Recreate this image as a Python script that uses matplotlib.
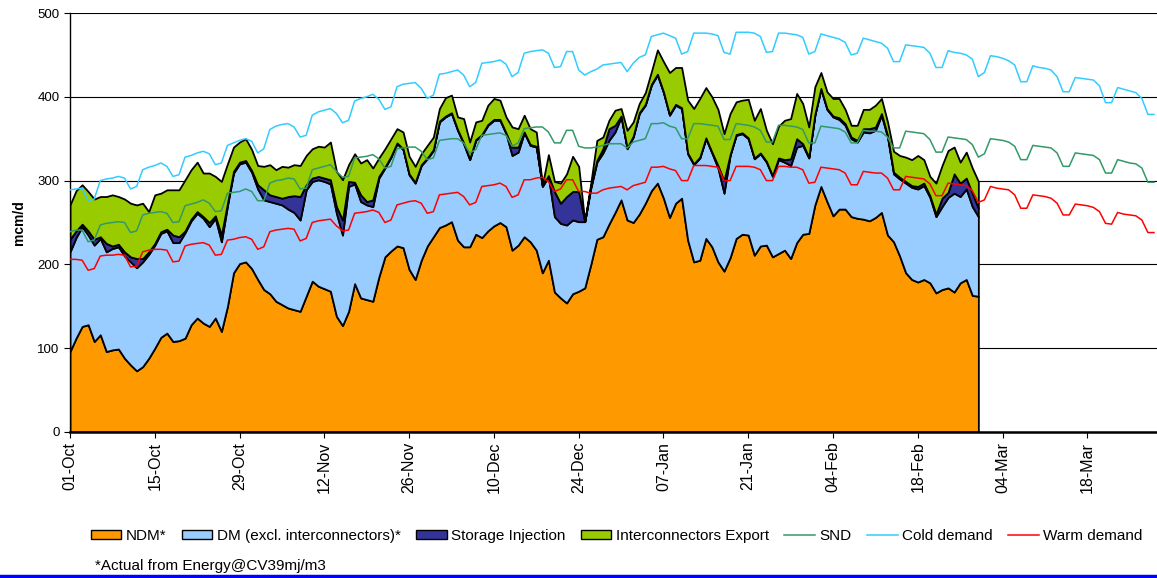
import numpy as np
import matplotlib
matplotlib.use('Agg')
import matplotlib.pyplot as plt
from matplotlib.patches import Patch
from matplotlib.lines import Line2D

plt.rcParams['font.family'] = ['Liberation Sans', 'DejaVu Sans']

# Etiquetas del eje x (cada 14 días desde el 01-Oct)
etiquetas = ['01-Oct', '15-Oct', '29-Oct', '12-Nov', '26-Nov', '10-Dec', '24-Dec',
             '07-Jan', '21-Jan', '04-Feb', '18-Feb', '04-Mar', '18-Mar']

# Demanda diaria real (mcm/d), 01-Oct a 28-Feb
ndm = [96, 112, 126, 128, 108, 116, 96, 98, 99, 88,
       80, 73, 78, 88, 100, 113, 118, 108, 109, 112,
       128, 136, 130, 126, 136, 120, 150, 190, 201, 203,
       195, 182, 170, 165, 156, 152, 148, 146, 144, 162,
       180, 174, 171, 168, 138, 127, 144, 177, 160, 158,
       156, 185, 209, 216, 222, 220, 194, 182, 205, 222,
       233, 244, 247, 251, 229, 221, 221, 236, 232, 240,
       246, 250, 245, 217, 223, 233, 227, 217, 190, 205,
       167, 160, 154, 165, 168, 172, 200, 230, 233, 248,
       262, 277, 253, 250, 260, 273, 288, 297, 279, 256,
       273, 279, 229, 203, 205, 231, 221, 203, 192, 208,
       231, 236, 235, 211, 222, 223, 209, 213, 217, 207,
       226, 236, 237, 271, 293, 275, 258, 266, 266, 257,
       255, 254, 252, 256, 262, 235, 227, 210, 190, 182,
       179, 182, 178, 166, 170, 172, 167, 178, 182, 163,
       162]

dm = [119, 120, 119, 107, 115, 115, 119, 121, 122, 122,
      123, 123, 125, 124, 123, 124, 122, 118, 117, 126,
      124, 125, 125, 119, 119, 107, 120, 119, 119, 119,
      115, 108, 107, 110, 117, 119, 118, 116, 109, 127,
      119, 127, 128, 128, 123, 108, 149, 119, 115, 113,
      113, 118, 106, 112, 122, 117, 113, 115, 113, 104,
      103, 126, 129, 129, 131, 123, 104, 112, 122, 126,
      126, 122, 111, 113, 111, 124, 115, 123, 103, 100,
      90, 89, 93, 88, 83, 79, 91, 92, 100, 100,
      96, 99, 85, 102, 120, 117, 126, 129, 126, 122,
      117, 107, 103, 116, 122, 119, 112, 112, 93, 122,
      123, 120, 115, 115, 110, 99, 96, 112, 105, 111,
      114, 106, 90, 107, 116, 110, 118, 107, 100, 93,
      91, 104, 105, 104, 116, 117, 81, 92, 107, 110,
      111, 112, 102, 91, 99, 108, 118, 103, 108, 106,
      95]

almacen = [15, 8, 3, 5, 7, 2, 10, 3, 3, 5,
           6, 11, 4, 3, 2, 2, 2, 9, 7, 2,
           2, 2, 2, 5, 3, 8, 3, 2, 2, 2,
           2, 5, 12, 8, 8, 8, 15, 20, 28, 6,
           4, 4, 4, 5, 8, 18, 6, 2, 8, 4,
           8, 2, 1, 1, 1, 1, 1, 1, 1, 1,
           1, 1, 1, 1, 1, 1, 1, 1, 1, 1,
           1, 1, 1, 10, 6, 1, 1, 1, 1, 1,
           30, 24, 34, 34, 36, 0, 2, 2, 5, 14,
           8, 1, 1, 1, 1, 1, 1, 1, 1, 1,
           1, 1, 1, 1, 1, 1, 1, 3, 15, 1,
           1, 1, 1, 1, 1, 1, 1, 2, 3, 8,
           10, 2, 1, 1, 1, 1, 1, 2, 2, 2,
           2, 4, 5, 4, 2, 2, 2, 2, 2, 2,
           3, 3, 2, 3, 10, 6, 23, 16, 13, 16,
           10]

interconectores = [41, 48, 47, 47, 48, 48, 56, 61, 57, 63,
                   64, 64, 66, 48, 58, 46, 47, 54, 56, 61,
                   59, 59, 52, 59, 47, 64, 47, 29, 24, 26,
                   25, 23, 28, 36, 32, 38, 35, 37, 37, 35,
                   35, 36, 37, 45, 42, 48, 20, 34, 38, 50,
                   38, 22, 22, 21, 17, 20, 21, 19, 13, 15,
                   15, 15, 22, 21, 15, 29, 20, 21, 17, 23,
                   25, 23, 19, 24, 22, 20, 19, 17, 1, 25,
                   12, 24, 27, 42, 30, 0, 4, 24, 14, 10,
                   18, 9, 21, 17, 11, 14, 15, 29, 36, 50,
                   44, 48, 63, 66, 70, 60, 66, 67, 56, 49,
                   39, 39, 46, 45, 53, 37, 38, 38, 47, 48,
                   54, 48, 36, 33, 19, 20, 21, 23, 17, 14,
                   18, 23, 23, 26, 18, 16, 25, 26, 29, 31,
                   37, 28, 23, 37, 39, 50, 32, 25, 31, 30,
                   32]

# Curvas de referencia, 01-Oct a 29-Mar
snd = [239, 241, 241, 227, 229,
       247, 249, 250, 251, 250, 238, 240,
       259, 261, 262, 263, 261, 250, 251,
       270, 272, 274, 277, 273, 263, 264,
       285, 286, 287, 290, 287, 276, 276,
       297, 300, 301, 303, 302, 290, 291,
       313, 315, 317, 319, 311, 304, 305,
       327, 328, 329, 331, 326, 315, 317,
       338, 339, 340, 340, 335, 325, 327,
       348, 349, 350, 350, 345, 333, 337,
       354, 355, 356, 357, 354, 341, 345,
       362, 363, 364, 364, 358, 345, 345,
       360, 360, 341, 339, 339, 340, 342,
       344, 344, 344, 339, 346, 348, 350,
       368, 368, 369, 365, 363, 350, 350,
       368, 368, 367, 366, 365, 349, 349,
       368, 367, 366, 364, 360, 346, 346,
       366, 366, 365, 364, 361, 345, 345,
       365, 364, 363, 362, 358, 345, 345,
       360, 359, 359, 358, 352, 339, 339,
       359, 358, 357, 356, 349, 334, 334,
       352, 351, 350, 349, 343, 328, 332,
       350, 349, 348, 346, 341, 325, 325,
       342, 341, 340, 339, 333, 317, 317,
       333, 332, 331, 330, 325, 309, 309,
       325, 323, 321, 320, 315, 298, 298]

frio = [289, 290, 291, 276, 278,
        300, 302, 303, 305, 303, 290, 293,
        313, 316, 318, 321, 317, 305, 307,
        328, 330, 333, 335, 332, 319, 321,
        342, 345, 348, 350, 347, 333, 338,
        361, 365, 367, 368, 364, 352, 354,
        378, 382, 384, 386, 380, 369, 372,
        395, 398, 400, 403, 397, 385, 388,
        412, 415, 416, 417, 410, 398, 402,
        427, 428, 430, 432, 426, 412, 417,
        440, 441, 442, 444, 439, 424, 429,
        452, 454, 455, 456, 452, 435, 436,
        454, 454, 432, 426, 430, 433, 438,
        439, 440, 441, 430, 440, 447, 450,
        472, 474, 476, 473, 470, 451, 454,
        476, 476, 476, 475, 473, 453, 451,
        477, 477, 477, 476, 472, 453, 454,
        476, 476, 475, 474, 471, 451, 454,
        475, 473, 471, 469, 465, 450, 452,
        470, 468, 466, 464, 458, 442, 442,
        462, 461, 460, 459, 452, 435, 435,
        455, 453, 452, 450, 445, 424, 429,
        449, 448, 446, 443, 438, 418, 418,
        437, 435, 434, 432, 424, 406, 406,
        423, 422, 421, 420, 413, 393, 393,
        411, 409, 407, 405, 398, 379, 379]

calido = [206, 206, 205, 193, 195,
          210, 211, 211, 212, 211, 197, 198,
          215, 217, 218, 218, 217, 203, 204,
          222, 224, 225, 226, 223, 211, 212,
          229, 230, 232, 233, 230, 218, 221,
          239, 241, 242, 243, 242, 228, 231,
          250, 252, 253, 254, 246, 240, 241,
          261, 262, 263, 265, 262, 250, 253,
          271, 273, 275, 276, 273, 261, 263,
          283, 284, 285, 286, 281, 271, 274,
          293, 294, 295, 297, 293, 280, 283,
          301, 301, 303, 304, 299, 287, 290,
          301, 301, 287, 287, 285, 285, 289,
          291, 292, 293, 289, 294, 296, 298,
          316, 316, 317, 314, 312, 300, 300,
          318, 318, 318, 317, 316, 300, 300,
          317, 317, 317, 316, 313, 300, 300,
          317, 317, 316, 316, 313, 297, 298,
          316, 315, 314, 313, 309, 295, 295,
          311, 310, 309, 309, 303, 289, 289,
          305, 304, 303, 302, 296, 282, 282,
          297, 296, 295, 294, 288, 274, 277,
          293, 291, 290, 289, 283, 267, 267,
          283, 282, 281, 279, 273, 259, 259,
          272, 271, 270, 268, 263, 249, 248,
          262, 260, 259, 258, 253, 238, 238]

dias = np.arange(len(ndm))
dias_lineas = np.arange(len(snd))

fig = plt.figure(figsize=(11.57, 5.78), dpi=100)
ax = fig.add_axes([70 / 1157, 1 - 432 / 578, 1087 / 1157, 419 / 578])

colores = ['#FF9900', '#99CCFF', '#333399', '#99CC00']
ax.stackplot(dias, ndm, dm, almacen, interconectores, colors=colores,
             edgecolor='black', linewidth=1.3, zorder=2)

ax.plot(dias_lineas, snd, color='#339966', lw=1.1, zorder=3)
ax.plot(dias_lineas, frio, color='#33CCFF', lw=1.1, zorder=3)
ax.plot(dias_lineas, calido, color='#FF0000', lw=1.1, zorder=3)

ax.set_xlim(0, 179.5)
ax.set_ylim(0, 500)
ax.set_yticks(range(0, 501, 100))
ax.set_xticks(np.arange(0, 14 * len(etiquetas), 14))
ax.set_xticklabels(etiquetas, rotation=90, fontsize=11.5)
ax.tick_params(axis='y', labelsize=9.5, length=4, direction='out')
ax.tick_params(axis='x', length=4, direction='out', pad=3)

ax.yaxis.grid(True, color='black', lw=0.8)
ax.set_axisbelow(True)
ax.spines['top'].set_visible(False)
ax.spines['right'].set_visible(False)
ax.spines['left'].set_linewidth(1.0)
ax.spines['bottom'].set_linewidth(1.8)

ax.set_ylabel('mcm/d', fontsize=10, fontweight='bold', labelpad=8)

manejadores = [
    Patch(facecolor='#FF9900', edgecolor='black', label='NDM*'),
    Patch(facecolor='#99CCFF', edgecolor='black', label='DM (excl. interconnectors)*'),
    Patch(facecolor='#333399', edgecolor='black', label='Storage Injection'),
    Patch(facecolor='#99CC00', edgecolor='black', label='Interconnectors Export'),
    Line2D([], [], color='#339966', lw=1.1, label='SND'),
    Line2D([], [], color='#33CCFF', lw=1.1, label='Cold demand'),
    Line2D([], [], color='#FF0000', lw=1.1, label='Warm demand'),
]
fig.legend(handles=manejadores, loc='center', bbox_to_anchor=(0.533, 1 - 536 / 578),
           ncol=7, frameon=False, fontsize=11, handlelength=2.0, handleheight=0.6,
           handletextpad=0.3, columnspacing=1.0)

fig.text(95 / 1157, 1 - 566 / 578, '*Actual from Energy@CV39mj/m3', fontsize=11,
         va='center', ha='left')

fig.add_artist(Line2D([0, 1], [0.003, 0.003], color='#0000FF', lw=2.5))

plt.savefig('out.png', dpi=100)
